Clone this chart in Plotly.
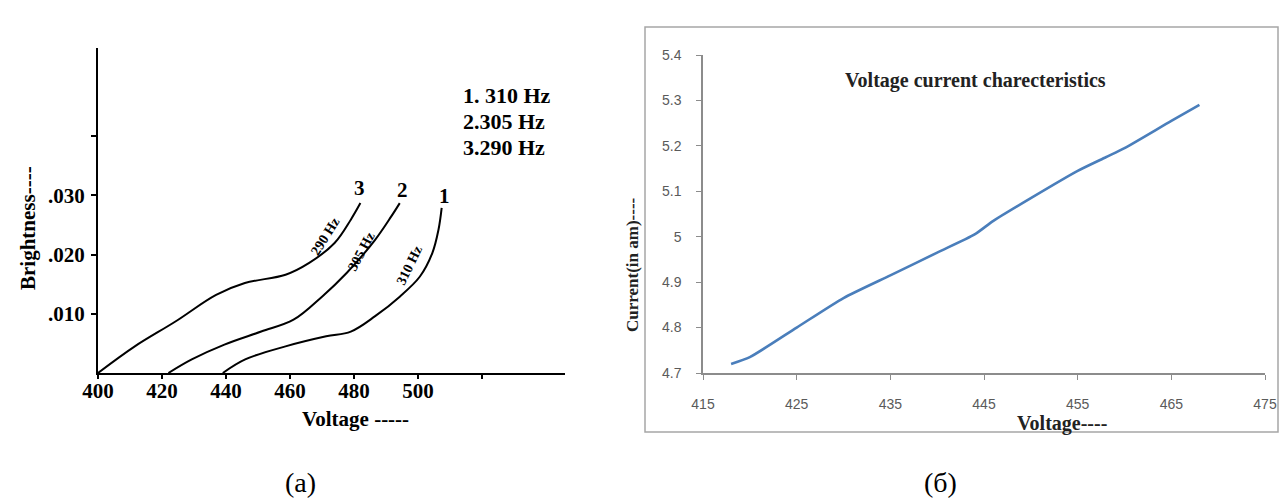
import plotly.graph_objects as go

W, H = 1280, 504

# ---- Panel (a): Brightness vs Voltage (three frequencies) ----
v_310 = [439, 446, 458.6, 471.3, 479, 486.6, 494.3, 500.6, 504.5, 506.4, 507.4]
b_310 = [0.0, 0.0023, 0.0045, 0.0062, 0.0070, 0.0096, 0.0129, 0.0163, 0.0203, 0.0242, 0.0279]
v_305 = [422, 429.3, 439.5, 451, 461.1, 470, 477.7, 486.6, 491.7, 494.3]
b_305 = [0.0, 0.0023, 0.0048, 0.0070, 0.0090, 0.0129, 0.0169, 0.0225, 0.0265, 0.0287]
v_290 = [400, 411.5, 424.2, 436.9, 445.9, 458.6, 466, 474, 479, 482]
b_290 = [0.0, 0.0045, 0.0087, 0.0132, 0.0152, 0.0166, 0.0186, 0.0220, 0.0259, 0.0287]

a_xticks = [400, 420, 440, 460, 480, 500, 520]
a_xticklabels = ["400", "420", "440", "460", "480", "500", ""]
a_yticks = [0.010, 0.020, 0.030, 0.040]
a_yticklabels = [".010", ".020", ".030", ""]
legend_lines = ["1. 310 Hz", "2.305 Hz", "3.290 Hz"]

# ---- Panel (б): Voltage-current characteristics ----
volt = [418, 420, 425, 430, 435, 440, 444, 446, 450, 455, 458, 460, 465, 468]
curr = [4.72, 4.735, 4.80, 4.865, 4.915, 4.965, 5.005, 5.035, 5.085, 5.145, 5.175, 5.195, 5.255, 5.29]
b_xticks = [415, 425, 435, 445, 455, 465, 475]
b_yticks = [4.7, 4.8, 4.9, 5.0, 5.1, 5.2, 5.3, 5.4]
b_yticklabels = ["4.7", "4.8", "4.9", "5", "5.1", "5.2", "5.3", "5.4"]


def px(x):
    return x / W


def py(y):
    return 1 - y / H


SERIF = "Liberation Serif"
SANS = "Liberation Sans"

fig = go.Figure()
for v, b in [(v_310, b_310), (v_305, b_305), (v_290, b_290)]:
    fig.add_trace(go.Scatter(x=v, y=b, mode="lines", line=dict(color="black", width=2, shape="spline", smoothing=1.0),
                             xaxis="x", yaxis="y", showlegend=False, hoverinfo="skip"))

fig.add_trace(go.Scatter(x=volt, y=curr, mode="lines", line=dict(color="#4A7EBB", width=2.6, shape="spline", smoothing=0.6),
                         xaxis="x2", yaxis="y2", showlegend=False))

left_font = dict(family=SERIF, size=21, color="black", weight="bold")
gray_font = dict(family=SANS, size=14, color="#5a5a5a")

fig.update_layout(
    template="none",
    width=W, height=H,
    margin=dict(l=0, r=0, t=0, b=0, pad=0, autoexpand=False),
    paper_bgcolor="white", plot_bgcolor="white",
    xaxis=dict(domain=[px(98), px(565)], range=[400, 400 + (565 - 98) / 3.2], anchor="y", automargin=False,
               showline=True, linecolor="black", linewidth=2, showgrid=False, zeroline=False,
               tickmode="array", tickvals=a_xticks, ticktext=a_xticklabels,
               ticks="outside", ticklen=4, tickwidth=2, tickcolor="black", tickfont=left_font,
               ticklabelstandoff=-6),
    yaxis=dict(domain=[py(373), py(48)], range=[0, 325 / 5920], anchor="x", automargin=False,
               showline=True, linecolor="black", linewidth=2, showgrid=False, zeroline=False,
               tickmode="array", tickvals=a_yticks, ticktext=a_yticklabels,
               ticks="outside", ticklen=5, tickwidth=2, tickcolor="black", tickfont=left_font,
               ticklabelstandoff=2),
    xaxis2=dict(domain=[px(703), px(1265)], range=[415, 475], anchor="y2", automargin=False,
                showline=True, linecolor="#8c8c8c", linewidth=1.5, showgrid=False, zeroline=False,
                tickmode="array", tickvals=b_xticks,
                ticks="outside", ticklen=5, tickcolor="#8c8c8c", tickfont=gray_font,
                ticklabelstandoff=12),
    yaxis2=dict(domain=[py(373), py(55)], range=[4.7, 5.4], anchor="x2", automargin=False,
                showline=True, linecolor="#8c8c8c", linewidth=1.5, showgrid=False, zeroline=False,
                tickmode="array", tickvals=b_yticks, ticktext=b_yticklabels,
                ticks="outside", ticklen=5, tickcolor="#8c8c8c", tickfont=gray_font,
                ticklabelstandoff=12),
    shapes=[dict(type="rect", xref="paper", yref="paper", x0=px(645), x1=px(1278), y0=py(432), y1=py(27),
                 line=dict(color="#a6a6a6", width=1.5))],
)

ann = []


def add(text, x, y, font, xanchor="center", yanchor="middle", angle=0):
    ann.append(dict(text=text, x=px(x), y=py(y), xref="paper", yref="paper", showarrow=False,
                    font=font, xanchor=xanchor, yanchor=yanchor, textangle=angle))


# Panel (a) texts
add("Brightness----", 28, 228, dict(family=SERIF, size=21, color="black", weight="bold"), angle=-90)
add("Voltage -----", 355, 419, dict(family=SERIF, size=21, color="black", weight="bold"))
for i, t in enumerate(legend_lines):
    add(t, 461, 95 + 26 * i, dict(family=SERIF, size=22, color="black", weight="bold"), xanchor="left")
add("3", 359, 188, left_font)
add("2", 402, 190, left_font)
add("1", 444, 196, left_font)
small = dict(family=SERIF, size=14, color="black", weight="bold")
add("290 Hz", 325, 236, small, angle=-58)
add("305 Hz", 361, 251, small, angle=-62)
add("310 Hz", 409, 265, small, angle=-64)

# Panel (б) texts
add("Voltage current charecteristics", 975, 80, dict(family=SERIF, size=20, color="#222222", weight="bold"))
add("Voltage----", 1062, 423, dict(family=SERIF, size=20, color="#222222", weight="bold"))
add("Current(in am)----", 632, 265, dict(family=SERIF, size=17, color="#222222", weight="bold"), angle=-90)

# Sub-figure labels
add("(a)", 300, 482, dict(family=SERIF, size=28, color="black"))
add("(б)", 940, 482, dict(family=SERIF, size=28, color="black"))

fig.update_layout(annotations=ann)
fig.write_html("out.html")
